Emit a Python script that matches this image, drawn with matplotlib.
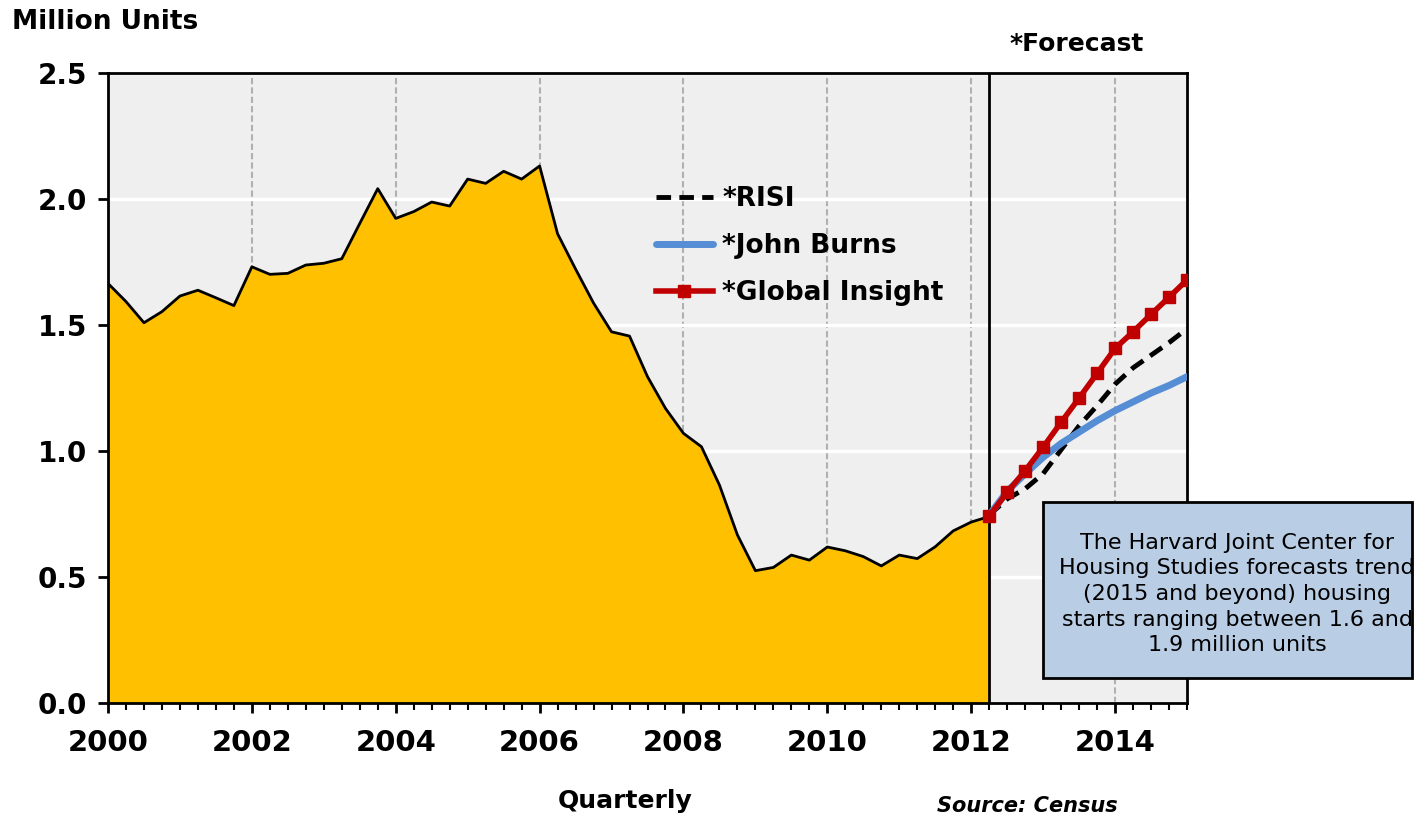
import matplotlib
matplotlib.use("Agg")
import matplotlib.pyplot as plt
from matplotlib.ticker import MultipleLocator, FormatStrFormatter
from matplotlib.patches import Rectangle
import numpy as np

# quarterly housing starts, 2000Q1 .. 2012Q2 (million units)
start_year = 2000
housing_starts = [1.665, 1.593, 1.509, 1.553, 1.615, 1.638, 1.608, 1.577,
                  1.731, 1.701, 1.705, 1.738, 1.745, 1.763, 1.903, 2.041,
                  1.923, 1.950, 1.988, 1.972, 2.079, 2.062, 2.110, 2.079,
                  2.131, 1.862, 1.722, 1.587, 1.473, 1.456, 1.295, 1.169,
                  1.070, 1.017, 0.865, 0.667, 0.525, 0.538, 0.587, 0.567,
                  0.619, 0.604, 0.581, 0.544, 0.587, 0.573, 0.620, 0.683,
                  0.718, 0.740]

# forecasts, 2012Q2 .. 2015Q1
forecast_start = 2012.25
risi = [0.745, 0.81, 0.85, 0.91, 1.005, 1.10, 1.18, 1.265, 1.33, 1.38, 1.43, 1.485]
john_burns = [0.745, 0.84, 0.91, 0.975, 1.03, 1.075, 1.12, 1.16, 1.195, 1.23, 1.26, 1.295]
global_insight = [0.742, 0.836, 0.922, 1.015, 1.114, 1.210, 1.308, 1.407,
                  1.473, 1.542, 1.610, 1.679]

y_ticks = [0.0, 0.5, 1.0, 1.5, 2.0, 2.5]
note = ("The Harvard Joint Center for\nHousing Studies forecasts trend\n"
        "(2015 and beyond) housing\nstarts ranging between 1.6 and\n1.9 million units")

hist_x = start_year + 0.25 * np.arange(len(housing_starts))
fc_x = forecast_start + 0.25 * np.arange(len(global_insight))

plt.rcParams['font.family'] = ['DejaVu Sans']

fig = plt.figure(figsize=(14.26, 8.19), dpi=100)
ax = fig.add_axes([108 / 1426, 1 - 703 / 819, 1079 / 1426, 630 / 819])
ax.set_facecolor('#EFEFEF')
ax.set_axisbelow(True)

ax.fill_between(hist_x, housing_starts, 0, color='#FFC000', lw=0, zorder=2)
ax.plot(hist_x, housing_starts, color='black', lw=2, zorder=3)
ax.axvline(forecast_start, color='black', lw=2, zorder=3)

ax.plot(fc_x, risi, color='black', lw=3.5, dashes=(3, 1.7), label='*RISI', zorder=4)
ax.plot(fc_x, john_burns, color='#558ED5', lw=5, solid_capstyle='round', label='*John Burns', zorder=4)
ax.plot(fc_x, global_insight, color='#C00000', lw=4, marker='s', markersize=8,
        label='*Global Insight', zorder=5)

ax.set_xlim(2000, 2015)
ax.set_ylim(0, 2.5)
ax.set_yticks(y_ticks)
ax.yaxis.set_major_formatter(FormatStrFormatter('%.1f'))
ax.xaxis.set_major_locator(MultipleLocator(2))
ax.xaxis.set_minor_locator(MultipleLocator(0.25))

ax.yaxis.grid(True, color='white', lw=2.5)
ax.xaxis.grid(True, which='major', color='#B0B0B0', ls='--', dashes=(3, 1.5), lw=1.5)

for side in ['left', 'right', 'top', 'bottom']:
    ax.spines[side].set_linewidth(2)
    ax.spines[side].set_color('black')

ax.tick_params(axis='y', direction='out', length=7, width=2, pad=8, labelsize=20)
ax.tick_params(axis='x', which='major', direction='out', length=7, width=2, pad=12, labelsize=21)
ax.tick_params(axis='x', which='minor', direction='out', length=5, width=1.5)
for lbl in ax.get_xticklabels() + ax.get_yticklabels():
    lbl.set_fontweight('bold')

ax.legend(loc='center left', bbox_to_anchor=((656 - 108) / 1079, (703 - 246) / 630),
          frameon=False, borderpad=0, borderaxespad=0, handlelength=2.16,
          handletextpad=0.35, labelspacing=0.8, numpoints=1,
          prop={'size': 19, 'weight': 'bold'})

# note box sticking out past the right edge
ax.add_patch(Rectangle(((1043 - 108) / 1079, (703 - 678) / 630), 369 / 1079, 176 / 630,
                       transform=ax.transAxes, facecolor='#B9CDE5', edgecolor='black',
                       lw=2, clip_on=False, zorder=6))
fig.text(1237 / 1426, 1 - 594 / 819, note, ha='center', va='center', fontsize=16,
         linespacing=1.35, zorder=7)

fig.text(12 / 1426, 1 - 22 / 819, 'Million Units', ha='left', va='center',
         fontsize=19, fontweight='bold')
fig.text(1077 / 1426, 1 - 44 / 819, '*Forecast', ha='center', va='center',
         fontsize=18, fontweight='bold')
fig.text(625 / 1426, 1 - 801 / 819, 'Quarterly', ha='center', va='center',
         fontsize=18, fontweight='bold')
fig.text(1027 / 1426, 1 - 806 / 819, 'Source: Census', ha='center', va='center',
         fontsize=15, fontweight='bold', fontstyle='italic')

fig.savefig('out.png', dpi=100)
plt.close(fig)
